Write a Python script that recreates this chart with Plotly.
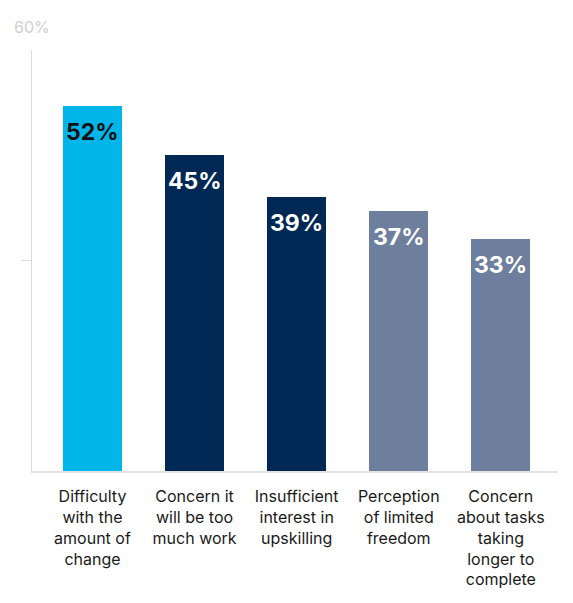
import plotly.graph_objects as go

categories = [
    "Difficulty<br>with the<br>amount of<br>change",
    "Concern it<br>will be too<br>much work",
    "Insufficient<br>interest in<br>upskilling",
    "Perception<br>of limited<br>freedom",
    "Concern<br>about tasks<br>taking<br>longer to<br>complete",
]
values = [52, 45, 39, 37, 33]
value_labels = ["52%", "45%", "39%", "37%", "33%"]
bar_colors = ["#00B5E8", "#002855", "#002855", "#6E7F9E", "#6E7F9E"]
label_colors = ["#111111", "#FFFFFF", "#FFFFFF", "#FFFFFF", "#FFFFFF"]
y_max = 60

FONT = "Inter, Roboto, sans-serif"

x_idx = list(range(len(categories)))

fig = go.Figure(
    go.Bar(
        x=x_idx,
        y=values,
        marker=dict(color=bar_colors, line=dict(width=0)),
        width=0.575,
        hoverinfo="skip",
    )
)

for i, (v, lab, col) in enumerate(zip(values, value_labels, label_colors)):
    fig.add_annotation(
        x=i, y=v, xref="x", yref="y",
        text=f"<b>{lab}</b>", showarrow=False,
        yanchor="middle", xanchor="center", yshift=-26,
        font=dict(family=FONT, size=23, color=col),
    )

fig.add_annotation(
    x=0, y=y_max, xref="paper", yref="y",
    text=f"{y_max}%", showarrow=False,
    xanchor="center", yanchor="middle", yshift=23,
    font=dict(family=FONT, size=16, color="#D0D0D0"),
)

# The page body has an 8px default margin, so the figure is offset by 8px.
fig.update_layout(
    width=565, height=595,
    margin=dict(l=24, r=15, t=42, b=132),
    paper_bgcolor="white", plot_bgcolor="white",
    showlegend=False,
    font=dict(family=FONT, size=16, color="#1A1A1A"),
    bargap=0,
)
fig.update_xaxes(
    tickmode="array", tickvals=x_idx, ticktext=categories,
    range=[-0.5925, 4.56],
    showline=True, linecolor="#E2E2E2", linewidth=2,
    ticks="outside", ticklen=10, tickcolor="rgba(0,0,0,0)",
    showgrid=False, zeroline=False,
    tickfont=dict(family=FONT, size=16, color="#1A1A1A"),
    fixedrange=True,
)
fig.update_yaxes(
    range=[0, y_max],
    tickmode="array", tickvals=[y_max / 2], ticktext=[""],
    showline=True, linecolor="#D9D9D9", linewidth=1,
    ticks="outside", ticklen=9, tickcolor="#D9D9D9", tickwidth=1,
    showgrid=False, zeroline=False, showticklabels=False,
    fixedrange=True,
)

fig.write_html("out.html", config={"displayModeBar": False})
